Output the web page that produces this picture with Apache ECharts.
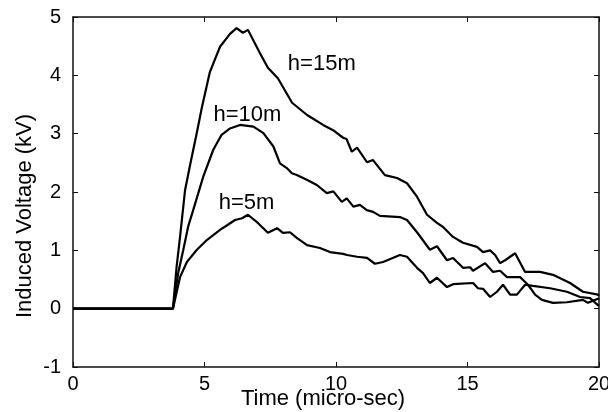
<!DOCTYPE html>
<html>
<head>
<meta charset="utf-8">
<script src="https://cdn.jsdelivr.net/npm/echarts@6/dist/echarts.min.js"></script>
<style>html,body{margin:0;padding:0;background:#fff;overflow:hidden}#c{width:608px;height:412px}</style>
</head>
<body>
<div id="c"></div>
<script>
// Time (micro-sec) and induced voltage (kV) for each height
const time15 = [0,3.8,3.94,4.07,4.26,4.45,4.7,4.9,5.2,5.59,5.97,6.22,6.46,6.65,7.11,7.41,7.79,8.33,8.9,9.51,9.89,10.27,10.4,10.6,10.8,11.18,11.4,11.86,12.32,12.7,13.08,13.46,13.84,14.07,14.45,14.83,15.36,15.59,15.86,16.05,16.24,16.43,16.81,17.19,17.76,18.25,18.9,19.39,19.96,20];
const volt15 = [0,0,0.72,1.23,2.03,2.46,3.0,3.45,4.05,4.49,4.71,4.81,4.73,4.78,4.38,4.13,3.95,3.53,3.32,3.15,3.06,2.93,2.91,2.69,2.76,2.51,2.55,2.29,2.24,2.15,1.92,1.61,1.47,1.4,1.23,1.13,1.06,0.97,1.0,0.92,0.78,0.83,0.95,0.63,0.63,0.58,0.44,0.29,0.24,0.22];

const time10 = [0,3.8,4.0,4.19,4.38,4.57,4.95,5.33,5.65,5.97,6.35,6.86,7.24,7.62,7.87,8.13,8.32,8.51,8.89,9.27,9.65,9.9,10.22,10.41,10.66,10.91,11.17,11.41,11.67,12.43,12.7,13.08,13.57,13.84,14.22,14.45,14.83,15.1,15.21,15.67,15.97,16.24,16.5,17.0,17.3,17.57,17.83,18.25,18.78,19.39,19.58,19.96,20];
const volt10 = [0,0,0.61,1.0,1.41,1.69,2.26,2.72,2.98,3.09,3.15,3.12,3.01,2.78,2.49,2.41,2.32,2.29,2.21,2.12,1.98,2.01,1.83,1.89,1.75,1.78,1.69,1.66,1.59,1.57,1.52,1.31,1.01,1.07,0.83,0.87,0.7,0.71,0.65,0.78,0.63,0.65,0.54,0.54,0.41,0.24,0.15,0.1,0.11,0.15,0.1,0.17,0.16];

const time5 = [0,3.8,4.07,4.33,4.71,5.1,5.59,5.86,6.16,6.43,6.65,7.03,7.41,7.76,7.98,8.25,8.52,8.9,9.39,9.77,10.27,10.42,10.8,11.18,11.48,11.79,12.43,12.7,13.08,13.31,13.57,13.84,14.22,14.45,15.21,15.4,15.59,15.86,16.12,16.35,16.62,16.88,17.19,17.49,18.14,18.78,19.28,19.66,19.96,20];
const volt5 = [0,0,0.54,0.8,1.01,1.18,1.35,1.43,1.52,1.55,1.61,1.47,1.3,1.38,1.3,1.31,1.21,1.09,1.04,0.97,0.94,0.92,0.89,0.87,0.77,0.8,0.92,0.89,0.7,0.61,0.44,0.53,0.37,0.42,0.44,0.35,0.34,0.2,0.29,0.41,0.24,0.24,0.41,0.39,0.35,0.29,0.2,0.18,0.06,0.05];

const xTicks = [0,5,10,15,20];
const yTicks = [-1,0,1,2,3,4,5];
const seriesNames = ['h=15m','h=10m','h=5m'];
const labelAnchors = [[9.46,4.19],[6.63,3.32],[6.6,1.82]];

const pairs = (t, v) => t.map((x, i) => [x, v[i]]);
const FONT = 'Liberation Sans, Arial, sans-serif';

const axisCommon = {
  type: 'value',
  axisLine: { show: true, onZero: false, lineStyle: { color: '#111', width: 1.5 } },
  axisTick: { show: true, inside: true, length: 5, lineStyle: { color: '#111', width: 1 } },
  splitLine: { show: false }
};

const chart = echarts.init(document.getElementById('c'));
const datasets = [pairs(time15, volt15), pairs(time10, volt10), pairs(time5, volt5)];

chart.setOption({
  animation: false,
  backgroundColor: '#fff',
  grid: { left: 73, right: 9, top: 17, bottom: 45, containLabel: false, outerBoundsMode: 'none' },
  xAxis: [
    Object.assign({}, axisCommon, {
      min: xTicks[0], max: xTicks[xTicks.length - 1], interval: 5, position: 'bottom',
      axisLabel: { color: '#000', fontSize: 20, fontFamily: FONT, margin: 7 },
      name: 'Time (micro-sec)', nameLocation: 'middle', nameGap: 21, nameMoveOverlap: false,
      nameTextStyle: { color: '#000', fontSize: 22, fontFamily: FONT, padding: [0, 26, 0, 0] }
    }),
    Object.assign({}, axisCommon, {
      min: xTicks[0], max: xTicks[xTicks.length - 1], interval: 5, position: 'top',
      axisLabel: { show: false }
    })
  ],
  yAxis: [
    Object.assign({}, axisCommon, {
      min: yTicks[0], max: yTicks[yTicks.length - 1], interval: 1, position: 'left',
      axisLabel: { color: '#000', fontSize: 20, fontFamily: FONT, margin: 12 },
      name: 'Induced Voltage (kV)', nameLocation: 'middle', nameGap: 37, nameMoveOverlap: false,
      nameTextStyle: { color: '#000', fontSize: 22, fontFamily: FONT, padding: [0, 48, 0, 0] }
    }),
    Object.assign({}, axisCommon, {
      min: yTicks[0], max: yTicks[yTicks.length - 1], interval: 1, position: 'right',
      axisLabel: { show: false }
    })
  ],
  series: datasets.map((d, i) => ({
    name: seriesNames[i],
    type: 'line',
    data: d,
    xAxisIndex: 0, yAxisIndex: 0,
    showSymbol: false,
    smooth: false,
    lineStyle: { color: '#000', width: 2.2 },
    markPoint: {
      symbol: 'circle', symbolSize: 0, silent: true,
      data: [{ coord: labelAnchors[i], value: seriesNames[i] }],
      label: { show: true, position: 'inside', color: '#000', fontSize: 22, fontFamily: FONT, formatter: seriesNames[i] }
    }
  }))
});
</script>
</body>
</html>
